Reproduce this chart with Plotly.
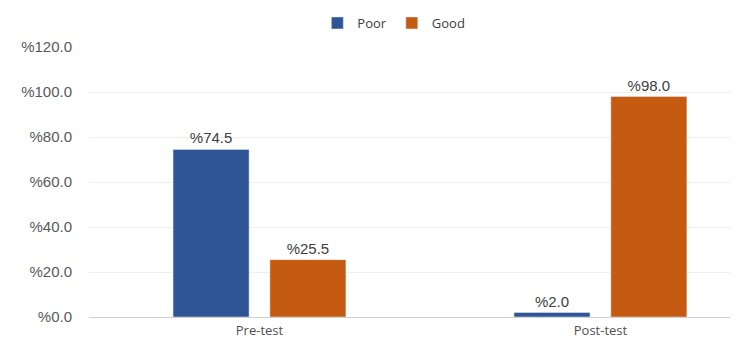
import plotly.graph_objects as go

categories = ["Pre-test", "Post-test"]
poor = [74.5, 2.0]
good = [25.5, 98.0]
y_ticks = [0, 20, 40, 60, 80, 100, 120]
y_tick_labels = ["%0.0", "%20.0", "%40.0", "%60.0", "%80.0", "%100.0", "%120.0"]

x_pos = list(range(len(categories)))

fig = go.Figure()
fig.add_trace(go.Bar(name="Poor", x=x_pos, y=poor, marker_color="#2F5597",
                     width=0.223, offset=-0.2535,
                     text=[f"%{v:.1f}" for v in poor], textposition="outside",
                     textfont=dict(family="Liberation Sans", size=15, color="#404040"),
                     cliponaxis=False))
fig.add_trace(go.Bar(name="Good", x=x_pos, y=good, marker_color="#C55A11",
                     width=0.223, offset=0.0305,
                     text=[f"%{v:.1f}" for v in good], textposition="outside",
                     textfont=dict(family="Liberation Sans", size=15, color="#404040"),
                     cliponaxis=False))

fig.update_layout(
    width=742, height=349,
    margin=dict(l=81, r=20, t=39, b=40, autoexpand=False),
    barmode="overlay",
    plot_bgcolor="white", paper_bgcolor="white",
    legend=dict(orientation="h", x=0.52, xref="container", xanchor="center",
                y=1.0, yref="container", yanchor="top",
                font=dict(family="Open Sans", size=13, color="#404040"),
                itemwidth=30, traceorder="normal"),
    xaxis=dict(tickmode="array", tickvals=x_pos, ticktext=categories,
               range=[-0.5, 1.38], showgrid=False, showline=False, zeroline=False,
               tickfont=dict(family="Open Sans", size=13, color="#505050"), ticks="",
               ticklabelstandoff=4),
    yaxis=dict(range=[0, 120], tickmode="array", tickvals=y_ticks, ticktext=y_tick_labels,
               showgrid=True, gridcolor="#EFEFEF", gridwidth=1, zeroline=True,
               zerolinecolor="#D0D0D0", zerolinewidth=1,
               tickfont=dict(family="Liberation Sans", size=15, color="#595959"),
               ticklabelstandoff=16),
)
fig.write_html("out.html")
